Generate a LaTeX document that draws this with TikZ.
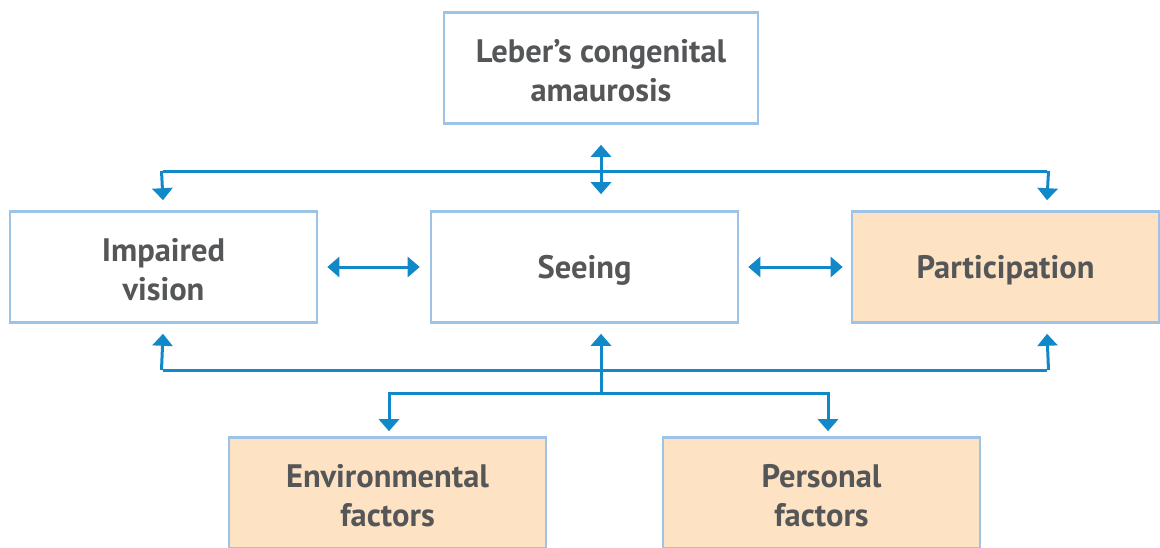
\documentclass[tikz,border=0pt]{standalone}
\usepackage{fontspec}
\setmainfont{PT Sans}
\usetikzlibrary{arrows.meta,calc}
\definecolor{bordc}{HTML}{9DC3E6}
\definecolor{arrc}{HTML}{1188C8}
\definecolor{peach}{HTML}{FDE2C4}
\definecolor{txtc}{HTML}{555658}
\tikzset{
  box/.style={draw=bordc, line width=2.6pt, minimum width=#1, minimum height=111pt, inner sep=0pt},
  box/.default=307pt,
  txt/.style={align=center, text=txtc, inner sep=0pt, yshift=-3pt, font=\fontsize{32.5}{39}\selectfont\bfseries},
  conn/.style={draw=arrc, line width=3pt},
  arr/.style={conn, -{Triangle[width=20pt,length=12pt]}},
  darr/.style={conn, {Triangle[width=20pt,length=12pt]}-{Triangle[width=20pt,length=12pt]}}
}
\begin{document}
\begin{tikzpicture}[x=1pt,y=-1pt]
\useasboundingbox (0,0) rectangle (1160,547);
\clip (0,0) rectangle (1160,547);
\node[box=314pt, label={[txt]center:Leber’s congenital\\amaurosis}] (top) at (601,68) {};
\node[box, label={[txt]center:Impaired\\vision}] (iv) at (163.5,267) {};
\node[box, label={[txt]center:Seeing}] (see) at (584.5,267) {};
\node[box, fill=peach, label={[txt]center:Participation}] (part) at (1005.5,267) {};
\node[box=317pt, fill=peach, label={[txt]center:Environmental\\factors}] (env) at (387.5,493) {};
\node[box=317pt, fill=peach, label={[txt]center:Personal\\factors}] (pers) at (821.5,493) {};
% top distribution
\coordinate (tl) at (163,171);
\coordinate (tr) at (1047,171);
\draw[darr] ([yshift=-20pt]top.south) -- ([yshift=16pt]top.south |- see.north);
\draw[conn] (tl) -- (tr);
\draw[arr] ([xshift=-1.5pt]tl) -- ([yshift=10pt]tl |- iv.north);
\draw[arr] ([xshift=1.5pt]tr) -- ([yshift=10pt]tr |- part.north);
% horizontal
\draw[darr] ([xshift=9pt]iv.east) -- ([xshift=-10pt]see.west);
\draw[darr] ([xshift=9pt]see.east) -- ([xshift=-8pt]part.west);
% bottom
\coordinate (bl) at (163,370);
\coordinate (br) at (1047,370);
\coordinate (bj) at (601,393);
\coordinate (bel) at (389,393);
\coordinate (ber) at (828,393);
\draw[conn] (bl) -- (br);
\draw[arr] ([xshift=-1.5pt]bl) -- ([yshift=-10pt]bl |- iv.south);
\draw[arr] ([xshift=1.5pt]br) -- ([yshift=-10pt]br |- part.south);
\draw[arr] (bj) -- ([yshift=-10pt]bj |- see.south);
\draw[conn] ([xshift=-1.5pt]bel) -- ([xshift=1.5pt]ber);
\draw[arr] (bel) -- ([yshift=5pt]bel |- env.north);
\draw[arr] (ber) -- ([yshift=5pt]ber |- pers.north);
\end{tikzpicture}
\end{document}
